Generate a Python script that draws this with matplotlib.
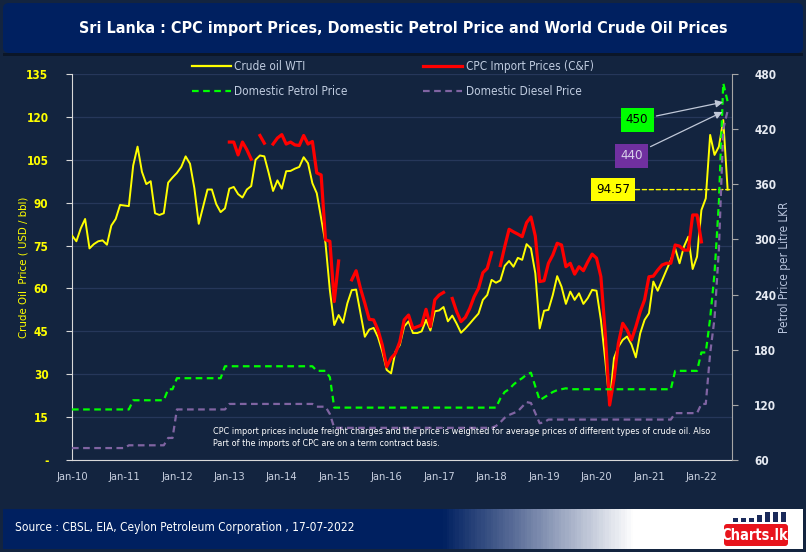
import matplotlib
matplotlib.use("Agg")
import matplotlib.pyplot as plt
import numpy as np
from matplotlib.patches import FancyBboxPatch, Rectangle
from matplotlib.lines import Line2D
from matplotlib.colors import LinearSegmentedColormap

plt.rcParams['font.family'] = ['DejaVu Sans']
plt.rcParams['font.stretch'] = 'condensed'

nan = np.nan

# month index 0 = Jan-2010 ... 150 = Jul-2022
months = np.arange(151)
tick_pos = np.arange(0, 145, 12)
tick_labels = ['Jan-10', 'Jan-11', 'Jan-12', 'Jan-13', 'Jan-14', 'Jan-15', 'Jan-16',
               'Jan-17', 'Jan-18', 'Jan-19', 'Jan-20', 'Jan-21', 'Jan-22']

# crude oil WTI, USD / bbl
wti = [78.5, 76.5, 81.0, 84.3, 74.0, 75.5, 76.5, 76.8, 75.3, 82.0, 84.3, 89.2,
       89.0, 88.8, 103.0, 109.6, 100.8, 96.5, 97.5, 86.3, 85.7, 86.3, 97.0, 98.8,
       100.4, 102.5, 106.2, 103.6, 95.0, 82.6, 88.6, 94.6, 94.6, 89.5, 86.7, 88.0,
       94.9, 95.5, 93.0, 91.8, 94.6, 95.8, 105.0, 106.5, 106.2, 100.4, 94.1, 97.8,
       94.9, 101.0, 101.1, 101.9, 102.5, 105.9, 103.8, 96.8, 93.3, 84.5, 75.8, 59.3,
       47.2, 50.7, 48.0, 54.8, 59.4, 59.6, 51.3, 43.1, 45.6, 46.2, 43.0, 37.9,
       31.5, 30.3, 37.9, 40.2, 46.7, 48.5, 44.4, 44.4, 45.0, 49.0, 45.3, 52.0,
       52.3, 53.5, 48.5, 50.5, 47.7, 44.5, 46.0, 47.7, 49.5, 51.2, 56.0, 57.7,
       63.0, 62.0, 62.8, 67.9, 69.6, 67.6, 70.7, 70.0, 75.5, 74.0, 65.3, 46.0,
       52.2, 52.5, 57.7, 64.3, 60.6, 54.6, 58.9, 56.0, 58.3, 54.6, 56.6, 59.5,
       59.2, 49.0, 35.0, 19.8, 35.6, 39.6, 42.0, 43.2, 40.4, 35.9, 44.3, 49.0,
       51.3, 62.4, 59.2, 62.8, 66.4, 69.9, 74.0, 68.8, 74.6, 78.1, 66.8, 71.1,
       87.4, 91.5, 113.7, 106.7, 109.6, 118.9, 94.57]

# CPC import prices (C&F), USD / bbl
cpc = [nan] * 36 + [
       111.2, 111.2, 106.7, 111.2, 108.5, 105.2, nan, 113.5, 110.8, nan, 110.5, 112.6,
       113.8, 110.5, 111.2, 110.2, 110.0, 113.5, 110.5, 111.4, 100.4, 99.7, 77.0, 76.5,
       55.4, 69.6, nan, nan, 63.0, 66.2, 60.0, 54.8, 49.2, 49.0, 45.5, 40.2,
       32.6, 35.6, 37.3, 41.4, 49.0, 50.7, 46.0, 46.6, 47.2, 52.7, 46.6, 56.0,
       57.7, 58.6, nan, 56.5, 51.9, 48.4, 49.9, 53.0, 57.1, 60.0, 65.5, 67.0,
       72.5, nan, 68.0, 74.6, 80.7, 79.8, 79.0, 78.1, 83.0, 85.0, 78.3, 62.4,
       62.7, 68.8, 71.7, 75.8, 75.2, 67.6, 68.8, 65.0, 67.6, 66.2, 69.3, 72.0,
       70.6, 64.1, 44.3, 19.2, 28.2, 40.8, 47.8, 45.5, 42.0, 46.6, 51.9, 56.0,
       64.1, 64.3, 66.4, 68.2, 68.8, 68.8, 75.2, 74.8, 73.4, 73.4, 85.7, 85.7,
       76.3, nan, nan, nan, nan, nan, nan]

# domestic prices, LKR per litre
petrol = ([115] * 14 + [125] * 8 + [137] * 2 + [149] * 11 + [162] * 21 + [157] * 3 + [150]
          + [117] * 38
          + [127, 134, 137, 142, 146, 149, 153, 155, 140, 125, 128, 131, 134, 136, 137, 138]
          + [137] * 24 + [157] * 6
          + [177, 177, 214, 263, 340, 470, 450])

diesel = ([73] * 13 + [76] * 9 + [84] * 2 + [115] * 12 + [121] * 20 + [118] * 3 + [110]
          + [95] * 37
          + [97, 101, 106, 109, 111, 113, 118, 123, 122, 111, 100, 101, 104]
          + [104] * 28 + [111] * 6
          + [121, 121, 176, 214, 289, 420, 440])

BG = '#13243F'
NAVY = '#002060'

fig = plt.figure(figsize=(8.06, 5.52), dpi=100)
fig.patch.set_facecolor(BG)

# decoration layer in pixel coordinates
deco = fig.add_axes([0, 0, 1, 1], zorder=-5)
deco.set_xlim(0, 806)
deco.set_ylim(552, 0)
deco.axis('off')
deco.add_patch(FancyBboxPatch((3, 3), 800, 50, boxstyle='round,pad=0,rounding_size=6',
                              fc=NAVY, ec='none'))
deco.add_patch(Rectangle((3, 53), 800, 3, fc='#0b1628', ec='none'))
grad = np.linspace(0, 1, 400).reshape(1, -1)
foot_cmap = LinearSegmentedColormap.from_list(
    'foot', [(0, NAVY), (0.55, NAVY), (0.64, '#5a6d98'), (0.79, '#ffffff'), (1, '#ffffff')])
deco.imshow(grad, extent=(3, 803, 549, 509), aspect='auto', cmap=foot_cmap, zorder=1)
# charts.lk logo
for i, h in enumerate([4, 4, 4, 7, 10, 10, 10]):
    deco.add_patch(Rectangle((733 + i * 8, 522 - h), 5, h, fc='#1a2a5a', ec='none', zorder=2))
deco.add_patch(FancyBboxPatch((724, 524), 64, 22, boxstyle='round,pad=0,rounding_size=3',
                              fc='#e8141c', ec='none', zorder=2))
deco.text(755, 535.5, 'Charts.lk', color='white', fontsize=10.5, fontweight='bold',
          ha='center', va='center', zorder=3)

fig.text(0.5, 1 - 29 / 552, 'Sri Lanka : CPC import Prices, Domestic Petrol Price and World Crude Oil Prices',
         color='white', fontsize=11.5, fontweight='bold', ha='center', va='center')
fig.text(15 / 806, 1 - 528 / 552, 'Source : CBSL, EIA, Ceylon Petroleum Corporation , 17-07-2022',
         color='white', fontsize=8.6, ha='left', va='center')

# main chart
ax = fig.add_axes([72 / 806, 1 - 460 / 552, 660 / 806, 386 / 552])
ax.set_facecolor('none')
ax2 = ax.twinx()

ax.plot(months, wti, color='#FFFF00', lw=1.4, label='Crude oil WTI', zorder=3)
ax.plot(months, cpc, color='#FF0000', lw=2.3, label='CPC Import Prices (C&F)', zorder=4)
ax2.plot(months, petrol, color='#00FF00', lw=1.6, ls=(0, (3, 2)), label='Domestic Petrol Price')
ax2.plot(months, diesel, color='#8064A2', lw=1.6, ls=(0, (3, 2)), label='Domestic Diesel Price')

ax.set_xlim(0, 151)
ax.set_ylim(0, 135)
ax2.set_ylim(60, 480)

ax.set_yticks(np.arange(0, 136, 15))
ax.set_yticklabels(['-'] + [str(v) for v in range(15, 136, 15)], fontweight='bold')
ax2.set_yticks(np.arange(60, 481, 60))
ax2.set_yticklabels([str(v) for v in range(60, 481, 60)], fontweight='bold')
ax.set_xticks(tick_pos)
ax.set_xticklabels(tick_labels)

ax.yaxis.grid(True, color='#26375a', lw=0.9)
ax.set_axisbelow(True)

for s in ['top', 'right']:
    ax.spines[s].set_visible(False)
for s in ['top', 'left', 'bottom']:
    ax2.spines[s].set_visible(False)
ax.spines['left'].set_color('#d8d8d8')
ax.spines['bottom'].set_color('#d8d8d8')
ax2.spines['right'].set_color('#a6a6a6')

ax.tick_params(axis='y', colors='#d8d8d8', labelcolor='#FFFF00', labelsize=8.5, length=4, pad=13)
ax.tick_params(axis='x', length=0, labelcolor='#c8d0e0', labelsize=8, pad=9)
ax2.tick_params(axis='y', colors='#a6a6a6', labelcolor='#e6eaf2', labelsize=8.5, length=4, pad=12)

ax.set_ylabel('Crude Oil  Price ( USD / bbl)', color='#FFFF00', fontsize=8.2)
ax.yaxis.set_label_coords(-44 / 660, 0.5)
ax2.set_ylabel('Petrol Price per Litre LKR', color='#b8c4dc', fontsize=8.5)
ax2.yaxis.set_label_coords(1 + 46 / 660, 0.5)

# legends (two columns)
h1 = Line2D([], [], color='#FFFF00', lw=1.6)
h2 = Line2D([], [], color='#00FF00', lw=1.6, ls=(0, (3, 2)))
h3 = Line2D([], [], color='#FF0000', lw=2.3)
h4 = Line2D([], [], color='#8064A2', lw=1.6, ls=(0, (3, 2)))
kw = dict(frameon=False, fontsize=8.5, labelcolor='#c0cce0', handlelength=3.3,
          handletextpad=0.3, labelspacing=1.05, borderpad=0, borderaxespad=0, loc='upper left')
leg1 = fig.legend([h1, h2], ['Crude oil WTI', 'Domestic Petrol Price'],
                  bbox_to_anchor=(192 / 806, 1 - 60 / 552), **kw)
leg2 = fig.legend([h3, h4], ['CPC Import Prices (C&F)', 'Domestic Diesel Price'],
                  bbox_to_anchor=(423 / 806, 1 - 60 / 552), **kw)

# annotations
arrow = dict(arrowstyle='-|>', color='#c0c8d8', lw=0.9, mutation_scale=11)
ax2.annotate('450', xy=(149.6, 450), xytext=(129.3, 430), fontsize=9.5, color='black',
             ha='center', va='center', arrowprops=arrow,
             bbox=dict(boxstyle='square,pad=0.4', fc='#00FF00', ec='none'))
ax2.annotate('440', xy=(149.4, 440), xytext=(128.0, 391), fontsize=9.5, color='#d8d0ea',
             ha='center', va='center', arrowprops=arrow,
             bbox=dict(boxstyle='square,pad=0.4', fc='#7030A0', ec='none'))
ax.annotate('94.57', xy=(151, 94.57), xytext=(123.8, 94.57), fontsize=9.5, color='black',
            ha='center', va='center',
            arrowprops=dict(arrowstyle='-', color='#FFFF00', lw=1, ls=(0, (3, 2)), shrinkA=0, shrinkB=0),
            bbox=dict(boxstyle='square,pad=0.4', fc='#FFFF00', ec='none'))

fig.text(213 / 806, 1 - 427 / 552,
         'CPC import prices include freight charges and the price is weighted for average prices of different types of crude oil. Also\n'
         'Part of the imports of CPC are on a term contract basis.',
         color='white', fontsize=6.5, ha='left', va='top', linespacing=1.45, zorder=10)

fig.savefig('out.png', dpi=100, facecolor=fig.get_facecolor())
